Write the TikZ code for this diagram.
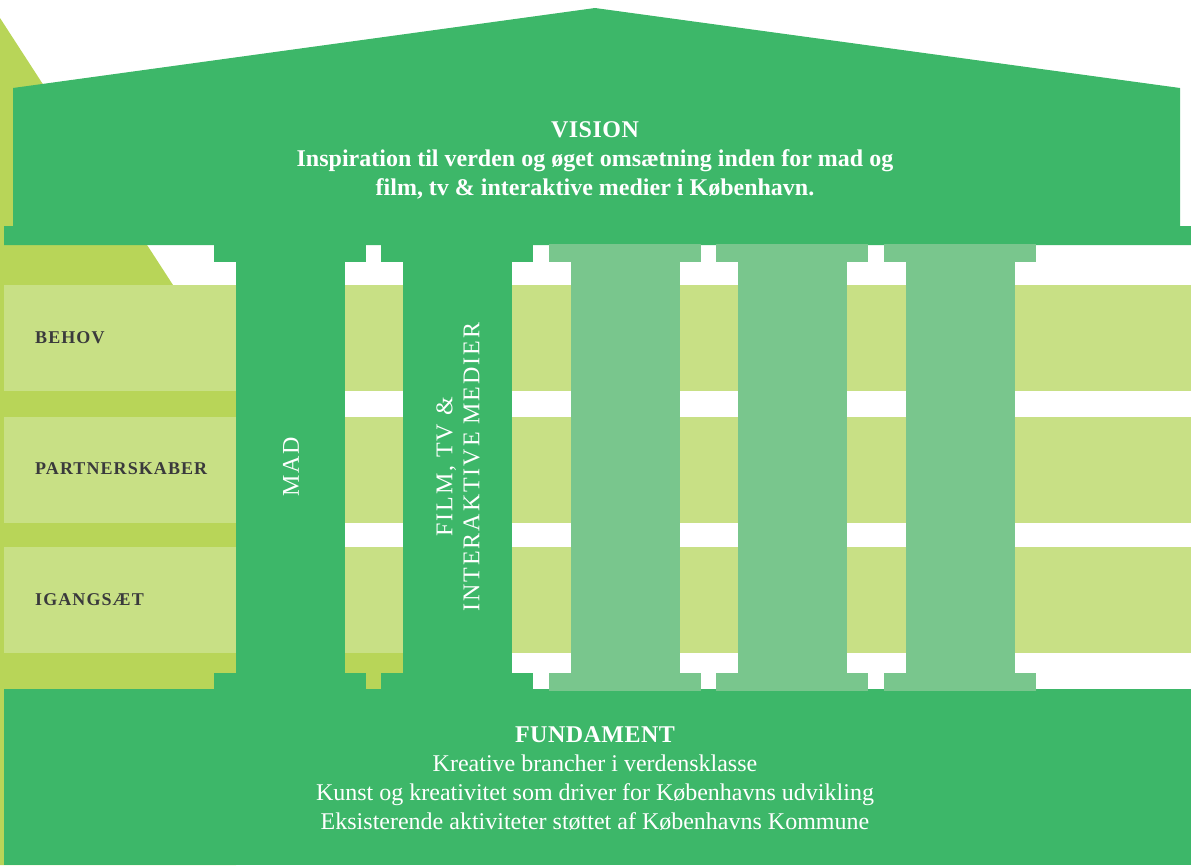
\documentclass[tikz,border=0pt]{standalone}
\usepackage{fontspec}
\setmainfont{Liberation Serif}
\newfontfamily\capsfont[LetterSpace=2]{Liberation Serif}
\newfontfamily\labelfont[LetterSpace=6]{Liberation Serif}
\newfontfamily\pillarfont[LetterSpace=8]{Liberation Serif}
\usetikzlibrary{positioning}

\definecolor{housegreen}{RGB}{61,183,105}
\definecolor{pillargreen}{RGB}{121,198,141}
\definecolor{rowgreen}{RGB}{200,224,133}
\definecolor{limegreen}{RGB}{184,213,88}
\definecolor{labelgray}{RGB}{58,58,60}

\begin{document}
\begin{tikzpicture}[
    x=1pt, y=-1pt,
    every node/.style={align=center, inner sep=0pt},
    house/.style={fill=housegreen},
    pillar/.style={fill=pillargreen},
    rowband/.style={fill=rowgreen},
    lime/.style={fill=limegreen},
    rowlabel/.style={anchor=west, text=labelgray, font=\labelfont\bfseries\fontsize{18}{20}\selectfont},
    pillarlabel/.style={rotate=90, text=white, font=\pillarfont\fontsize{24}{27}\selectfont},
    roofnote/.style={text=white, font=\bfseries\fontsize{24}{29}\selectfont},
    basenote/.style={text=white, font=\fontsize{24}{29}\selectfont}
]
\useasboundingbox (0,0) rectangle (1191,865);

% backdrop on the left
\fill[lime] (0,18) -- (173,285) -- (236,285) -- (236,865) -- (0,865) -- cycle;
\fill[lime] (345,653) rectangle (403,673) (366,673) rectangle (382,689);

% rows
\foreach \top/\bot in {285/391, 417/523, 547/653} {
  \fill[rowband] (4,\top) rectangle (236,\bot);
  \fill[rowband] (345,\top) rectangle (403,\bot);
  \fill[rowband] (512,\top) rectangle (1191,\bot);
}

% roof and foundation
\fill[house] (4,245) -- (4,226) -- (13,226) -- (13,88) -- (595,8) -- (1180,88)
  -- (1180,226) -- (1191,226) -- (1191,245) -- cycle;
\fill[house] (4,689) rectangle (1191,865);

% pillars
\foreach \l in {236, 403} {
  \fill[house] (\l,262) rectangle ++(109,411);
  \fill[house] (\l-22,245) rectangle ++(152,17);
  \fill[house] (\l-22,673) rectangle ++(152,16);
}
\foreach \l in {571, 738, 906} {
  \fill[pillar] (\l,262) rectangle ++(109,411);
  \fill[pillar] (\l-22,244) rectangle ++(152,18);
  \fill[pillar] (\l-22,673) rectangle ++(152,18);
}

\node[roofnote] (vision) at (595,160) {{\capsfont VISION}\\
  Inspiration til verden og øget omsætning inden for mad og\\
  film, tv \& interaktive medier i København.};
\node[basenote] (fundament) at (595,779) {{\capsfont\bfseries FUNDAMENT}\\
  Kreative brancher i verdensklasse\\
  Kunst og kreativitet som driver for Københavns udvikling\\
  Eksisterende aktiviteter støttet af Københavns Kommune};

\node[rowlabel] (behov) at (35,338) {BEHOV};
\node[rowlabel] (partnerskaber) at (35,469) {PARTNERSKABER};
\node[rowlabel] (igangsaet) at (35,600) {IGANGSÆT};

\node[pillarlabel] (mad) at (291,467) {MAD};
\node[pillarlabel] (film) at (458,467) {FILM, TV \&\\INTERAKTIVE MEDIER};

\end{tikzpicture}
\end{document}
